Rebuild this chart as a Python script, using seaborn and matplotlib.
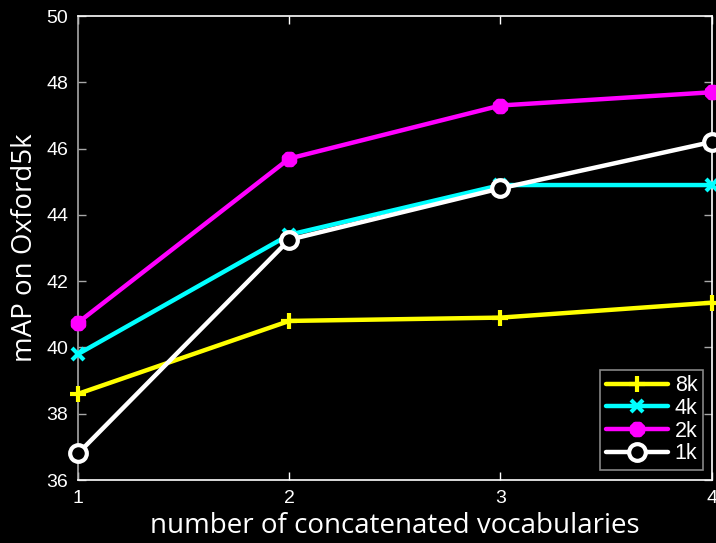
import matplotlib
matplotlib.use("Agg")
import matplotlib.pyplot as plt
import seaborn as sns
import pandas as pd

# number of concatenated vocabularies
vocabs = [1, 2, 3, 4]
# mAP on Oxford5k for each vocabulary size
map_8k = [38.6, 40.8, 40.9, 41.35]
map_4k = [39.8, 43.4, 44.9, 44.9]
map_2k = [40.75, 45.7, 47.3, 47.7]
map_1k = [36.8, 43.25, 44.8, 46.2]
series_names = ["8k", "4k", "2k", "1k"]

colors = {"8k": "#ffff00", "4k": "#00ffff", "2k": "#ff00ff", "1k": "#ffffff"}
markers = {"8k": "+", "4k": "x", "2k": (8, 2, 0), "1k": "o"}

df = pd.DataFrame({
    "vocabs": vocabs * 4,
    "mAP": map_8k + map_4k + map_2k + map_1k,
    "size": [n for n in series_names for _ in vocabs],
})

sns.set_theme(style="dark")
plt.rcParams["font.family"] = ["Liberation Sans", "DejaVu Sans"]

fig = plt.figure(figsize=(7.16, 5.43), dpi=100, facecolor="black")
ax = fig.add_axes([0.109, 0.116, 0.885, 0.8545])
ax.set_facecolor("black")

for name in series_names:
    sub = df[df["size"] == name]
    m = markers[name]
    if name == "1k":
        kw = dict(markersize=12, markeredgewidth=3, markerfacecolor="black",
                  markeredgecolor="white")
    elif name == "2k":
        kw = dict(markersize=11, markeredgewidth=4, markerfacecolor=colors[name],
                  markeredgecolor=colors[name])
    elif name == "4k":
        kw = dict(markersize=9, markeredgewidth=3, markeredgecolor=colors[name])
    else:
        kw = dict(markersize=12, markeredgewidth=3, markeredgecolor=colors[name])
    sns.lineplot(data=sub, x="vocabs", y="mAP", color=colors[name], marker=m,
                 linewidth=3.2, label=name, ax=ax, clip_on=False, zorder=3, **kw)

ax.set_xlim(1, 4)
ax.set_ylim(36, 50)
ax.set_xticks([1, 2, 3, 4])
ax.set_yticks(range(36, 51, 2))
ax.grid(False)

for side in ["top", "right", "bottom"]:
    ax.spines[side].set_color("white")
    ax.spines[side].set_linewidth(1.2)
    ax.spines[side].set_visible(True)
ax.spines["left"].set_color("#a8a8a8")
ax.spines["left"].set_linewidth(1.2)
ax.spines["left"].set_visible(True)

ax.tick_params(axis="both", which="both", direction="in", length=6, width=1,
               colors="white", labelsize=14, top=True, right=True,
               bottom=True, left=True, pad=7)
ax.tick_params(axis="y", colors="#a8a8a8", labelcolor="white")

ax.set_xlabel("number of concatenated vocabularies", color="white", fontsize=20,
              family=["Open Sans", "DejaVu Sans"], labelpad=4)
ax.set_ylabel("mAP on Oxford5k", color="white", fontsize=20,
              family=["Open Sans", "DejaVu Sans"], labelpad=5)

leg = ax.legend(loc="lower right", frameon=True, fontsize=15.5, handlelength=2.9,
                borderpad=0.25, labelspacing=0.08, handletextpad=0.3,
                borderaxespad=0, bbox_to_anchor=(0.986, 0.022))
leg.get_frame().set_facecolor("black")
leg.get_frame().set_edgecolor("#a8a8a8")
leg.get_frame().set_linewidth(1.2)
leg.get_frame().set_boxstyle("square", pad=0)
for t in leg.get_texts():
    t.set_color("white")

fig.savefig("out.png", dpi=100, facecolor="black")
